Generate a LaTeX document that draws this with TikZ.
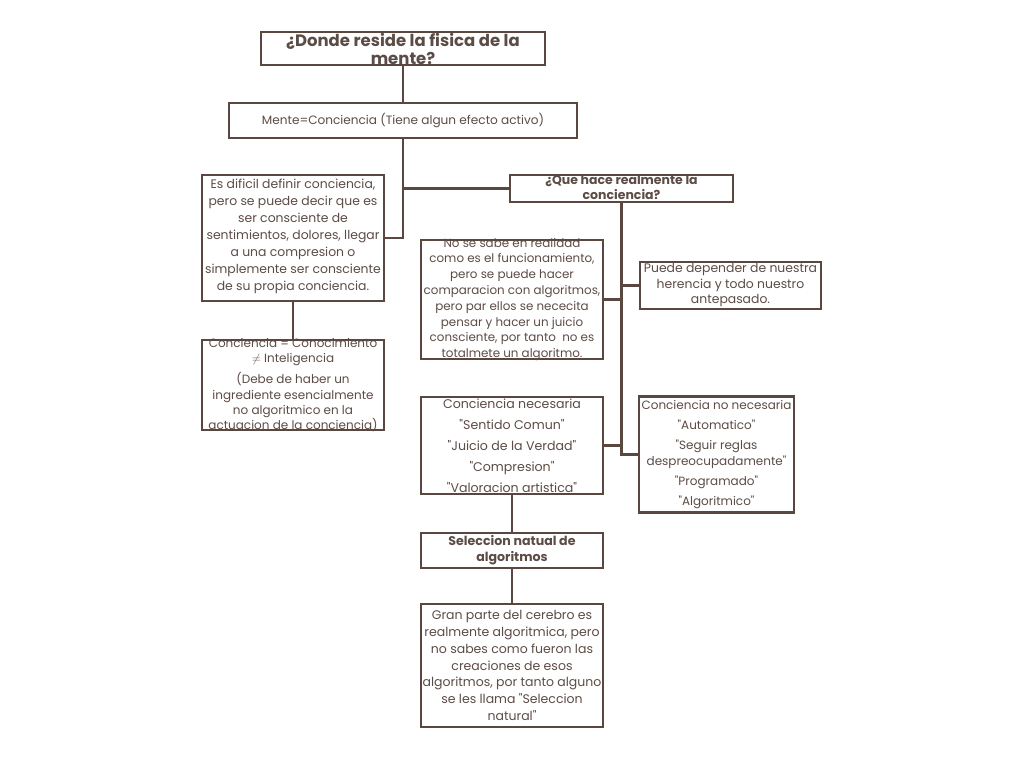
\documentclass[tikz,border=0pt]{standalone}
\usepackage{fontspec}
\setmainfont{Poppins}[Ligatures=TeXOff]
\definecolor{linea}{HTML}{5A4840}
\definecolor{letra}{HTML}{5C4C46}
\tikzset{
  caja/.style={draw=linea, line width=2.4pt, fill=white, inner sep=0pt},
  texto/.style={text=letra, align=center, inner sep=0pt, font=\fontsize{12.4}{17}\selectfont},
  negrita/.style={texto, font=\fontsize{12.5}{15}\selectfont\bfseries},
  conector/.style={draw=linea, line width=2.4pt},
}
\begin{document}
\begin{tikzpicture}[x=1pt,y=-1pt]
\useasboundingbox[fill=white] (0,0) rectangle (1024,768);

% cajas
\node[caja, minimum width=284, minimum height=33] (titulo) at (403,48.5) {};
\node[caja, minimum width=348, minimum height=35] (mente) at (403,120.5) {};
\node[caja, minimum width=182, minimum height=126] (dificil) at (293,238) {};
\node[caja, minimum width=223, minimum height=27] (que) at (621.5,188.5) {};
\node[caja, minimum width=182, minimum height=119] (nosabe) at (512,299.5) {};
\node[caja, minimum width=181, minimum height=47] (puede) at (730.5,285.5) {};
\node[caja, minimum width=182, minimum height=90] (igual) at (293,385) {};
\node[caja, minimum width=182, minimum height=97] (necesaria) at (512,445.5) {};
\node[caja, minimum width=155, minimum height=116] (noneces) at (716.5,454.5) {};
\node[caja, minimum width=182, minimum height=35] (seleccion) at (512,550.5) {};
\node[caja, minimum width=182, minimum height=123] (gran) at (512,665.5) {};

% conectores
\draw[conector] (titulo.south) -- (mente.north);
\draw[conector] (mente.south) -- (mente.south |- dificil.east) -- (dificil.east);
\draw[conector] (mente.south |- que.west) -- (que.west);
\draw[conector] (dificil.south) -- (igual.north);
\draw[conector] (que.south) -- (que.south |- noneces.west) -- (noneces.west);
\draw[conector] (nosabe.east) -- (nosabe.east -| que.south);
\draw[conector] (puede.west) -- (puede.west -| que.south);
\draw[conector] (necesaria.east) -- (necesaria.east -| que.south);
\draw[conector] (necesaria.south) -- (seleccion.north);
\draw[conector] (seleccion.south) -- (gran.north);

% textos
\node[texto, font=\fontsize{16.5}{18}\selectfont\bfseries] (titulo-t) at ([yshift=-0.5]titulo) {¿Donde reside la fisica de la\\mente?};
\node[texto, font=\fontsize{12.1}{17}\selectfont] (mente-t) at (mente) {Mente=Conciencia (Tiene algun efecto activo)};
\node[texto] (dificil-t) at ([yshift=1.5]dificil) {Es dificil definir conciencia,\\pero se puede decir que es\\ser consciente de\\sentimientos, dolores, llegar\\a una compresion o\\simplemente ser consciente\\de su propia conciencia.};
\node[negrita] (que-t) at ([yshift=1.5]que) {¿Que hace realmente la\\conciencia?};
\node[texto, font=\fontsize{11.9}{15.8}\selectfont] (nosabe-t) at (nosabe) {No se sabe en realidad\\como es el funcionamiento,\\pero se puede hacer\\comparacion con algoritmos,\\pero par ellos se nececita\\pensar y hacer un juicio\\consciente, por tanto\ \ no es\\totalmete un algoritmo.};
\node[texto, font=\fontsize{12.4}{15.5}\selectfont] (puede-t) at (puede) {Puede depender de nuestra\\herencia y todo nuestro\\antepasado.};
\node[texto, font=\fontsize{12}{15.3}\selectfont] (igual-t) at (igual) {Conciencia = Conocimiento\\$\neq$ Inteligencia\\[6pt](Debe de haber un\\ingrediente esencialmente\\no algoritmico en la\\actuacion de la conciencia)};
\node[texto, font=\fontsize{12.6}{21}\selectfont] (necesaria-t) at (necesaria) {Conciencia necesaria\\"Sentido Comun"\\"Juicio de la Verdad"\\"Compresion"\\"Valoracion artistica"};
\node[texto, font=\fontsize{12}{16}\selectfont] (noneces-t) at (noneces) {Conciencia no necesaria\\[4pt]"Automatico"\\[4pt]"Seguir reglas\\despreocupadamente"\\[4pt]"Programado"\\[4pt]"Algoritmico"};
\node[negrita, font=\fontsize{12.6}{16}\selectfont\bfseries] (seleccion-t) at (seleccion) {Seleccion natual de\\algoritmos};
\node[texto, font=\fontsize{12.5}{16.8}\selectfont] (gran-t) at (gran) {Gran parte del cerebro es\\realmente algoritmica, pero\\no sabes como fueron las\\creaciones de esos\\algoritmos, por tanto alguno\\se les llama "Seleccion\\natural"};
\end{tikzpicture}
\end{document}
